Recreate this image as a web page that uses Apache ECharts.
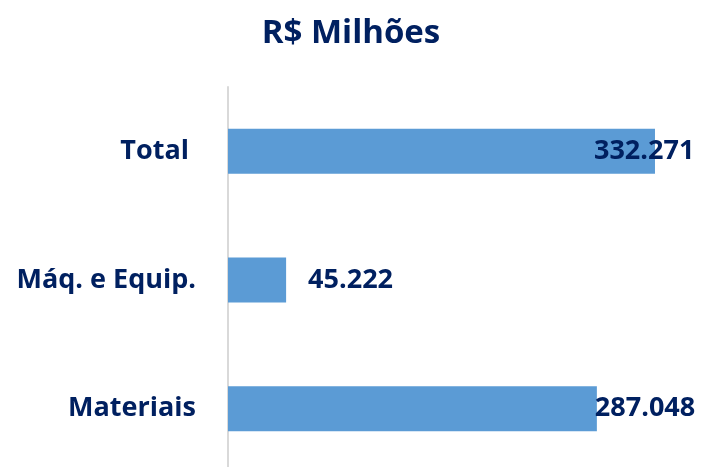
<!DOCTYPE html>
<html>
<head>
<meta charset="utf-8">
<script src="https://cdn.jsdelivr.net/npm/echarts@6/dist/echarts.min.js"></script>
<style>
  html, body { margin: 0; padding: 0; background: #fff; }
  #chart { width: 703px; height: 467px; }
</style>
</head>
<body>
<div id="chart"></div>
<script>
const categories = ['Materiais', 'Máq. e Equip.', 'Total '];
const values = [287048, 45222, 332271];

const navy = '#002060';
const barColor = '#5B9BD5';

// label tweaks so the big labels stay inside the plot like in the original
const labelOffsets = [[-2, 0], [22, 0], [-61, 0]];

function formatBR(value) {
  return value.toLocaleString('pt-BR');
}

const chart = echarts.init(document.getElementById('chart'));

chart.setOption({
  animation: false,
  title: {
    text: 'R$ Milhões',
    left: 346,
    textAlign: 'center',
    top: 12,
    textStyle: { color: navy, fontSize: 33, fontWeight: 'bold', fontFamily: 'Open Sans' }
  },
  grid: { left: 228, right: 3, top: 87, height: 386, containLabel: false, outerBoundsMode: 'none' },
  xAxis: {
    type: 'value',
    min: 0,
    max: 367300,
    show: false
  },
  yAxis: {
    type: 'category',
    data: categories,
    axisLine: { show: true, lineStyle: { color: '#D9D9D9', width: 2 } },
    axisTick: { show: false },
    axisLabel: {
      margin: 32,
      color: navy,
      fontSize: 27,
      fontWeight: 'bold',
      fontFamily: 'Open Sans'
    }
  },
  series: [
    {
      type: 'bar',
      barWidth: 45,
      data: values.map((v, i) => ({
        value: v,
        label: { offset: labelOffsets[i] }
      })),
      itemStyle: { color: barColor },
      label: {
        show: true,
        position: 'right',
        distance: 0,
        color: navy,
        fontSize: 27,
        fontWeight: 'bold',
        fontFamily: 'Open Sans',
        formatter: (p) => formatBR(p.value)
      }
    }
  ]
});
</script>
</body>
</html>
